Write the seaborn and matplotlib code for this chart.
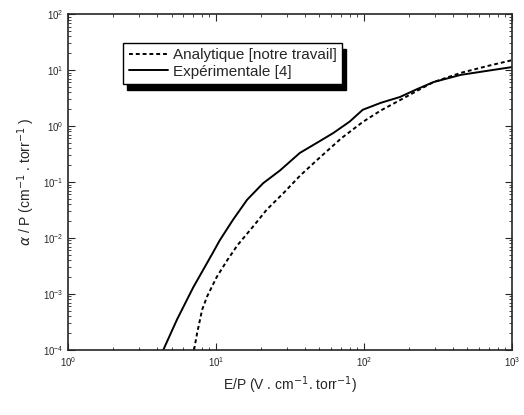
import matplotlib
matplotlib.use("Agg")
import matplotlib.pyplot as plt
import pandas as pd
import seaborn as sns
from matplotlib.ticker import LogLocator

# Experimental curve [4]
exp_x = [4.4, 5.45, 7.0, 9.5, 10.6, 13.0, 16.2, 20.8, 27.0, 36.8, 48.0, 62.0, 80.0, 98.0, 130.0, 175.0, 230.0, 295.0, 450.0, 700.0, 1000.0]
exp_y = [1e-4, 3.5e-4, 1.3e-3, 5.4e-3, 9.1e-3, 0.021, 0.048, 0.095, 0.16, 0.33, 0.5, 0.75, 1.2, 1.95, 2.6, 3.3, 4.6, 6.1, 8.2, 9.8, 11.3]

# Analytical curve (this work)
ana_x = [7.1, 7.45, 8.05, 8.7, 10.1, 11.9, 14.0, 17.8, 22.0, 28.5, 37.0, 48.0, 70.0, 98.0, 130.0, 175.0, 230.0, 295.0, 450.0, 700.0, 1000.0]
ana_y = [1e-4, 2e-4, 5.2e-4, 9e-4, 2e-3, 4e-3, 7.5e-3, 0.016, 0.032, 0.063, 0.13, 0.245, 0.6, 1.18, 1.9, 2.9, 4.3, 6.1, 8.9, 12.0, 15.0]

df = pd.concat([
    pd.DataFrame({"x": ana_x, "y": ana_y, "serie": "Analytique [notre travail]"}),
    pd.DataFrame({"x": exp_x, "y": exp_y, "serie": "Expérimentale [4]"}),
])

sns.set_style("ticks")
plt.rcParams["font.family"] = ["Liberation Sans", "DejaVu Sans"]

fig = plt.figure(figsize=(5.24, 4.15), dpi=100)
ax = fig.add_axes([0.13, 0.157, 0.847, 0.809])

sns.lineplot(data=df, x="x", y="y", style="serie", color="black",
             dashes={"Analytique [notre travail]": (2, 1.5), "Expérimentale [4]": ""},
             linewidth=1.4, sort=False, ax=ax)

ax.set_xscale("log")
ax.set_yscale("log")
ax.set_xlim(1, 1000)
ax.set_ylim(1e-4, 1e2)
ax.yaxis.set_major_locator(LogLocator(base=10, numticks=10))
ax.yaxis.set_minor_locator(LogLocator(base=10, subs=range(2, 10), numticks=10))
ax.tick_params(which="both", direction="in", top=True, right=True, labelsize=7)
ax.tick_params(which="major", length=5)
ax.tick_params(which="minor", length=2.5)
for s in ax.spines.values():
    s.set_linewidth(1.2)

ax.set_xlabel("E/P (V . cm$^{-1}$. torr$^{-1}$)", fontsize=10)
ax.set_ylabel(r"$\alpha$ / P (cm$^{-1}$ . torr$^{-1}$ )", fontsize=10)

leg = ax.legend(loc="upper left", bbox_to_anchor=(0.124, 0.914), fontsize=11,
                frameon=True, fancybox=False,
                shadow={"ox": 3, "oy": -4, "color": "black", "alpha": 1},
                handlelength=2.6, borderaxespad=0, labelspacing=0.15,
                handletextpad=0.3, borderpad=0.35)
leg.get_frame().set_edgecolor("black")
leg.get_frame().set_linewidth(1.0)
leg.get_frame().set_alpha(1)

fig.savefig("out.png", dpi=100)
